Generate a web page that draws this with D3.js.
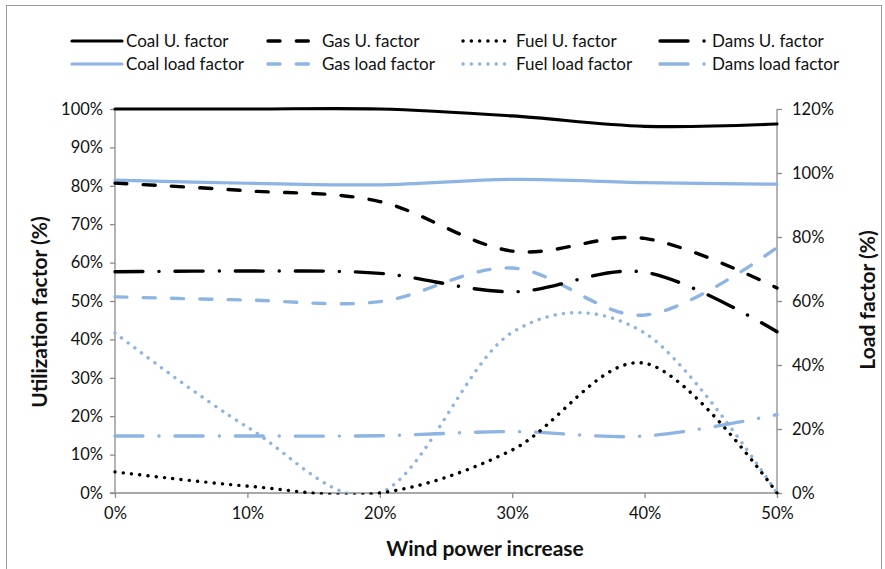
<!DOCTYPE html>
<html>
<head>
<meta charset="utf-8">
<script src="https://cdn.jsdelivr.net/npm/d3@7"></script>
<style>
  html, body { margin: 0; padding: 0; background: #fff; }
  svg { display: block; font-family: Lato, "Open Sans", sans-serif; }
</style>
</head>
<body>
<svg id="chart" width="885" height="569"></svg>
<script>
// Wind power increase (x) and the eight series
const windIncrease = [0, 0.1, 0.2, 0.3, 0.4, 0.5];
const xTickLabels = ["0%", "10%", "20%", "30%", "40%", "50%"];

// Utilization factors (left axis)
const coalU = [1.000, 1.000, 1.000, 0.982, 0.955, 0.961];
const gasU  = [0.807, 0.787, 0.759, 0.630, 0.663, 0.534];
const fuelU = [0.055, 0.018, 0.000, 0.112, 0.338, 0.000];
const damsU = [0.576, 0.578, 0.572, 0.524, 0.575, 0.420];

// Load factors (right axis)
const coalLoad = [0.978, 0.968, 0.963, 0.980, 0.970, 0.965];
const gasLoad  = [0.613, 0.603, 0.598, 0.703, 0.556, 0.767];
const fuelLoad = [0.500, 0.206, 0.000, 0.502, 0.500, 0.000];
const damsLoad = [0.178, 0.178, 0.179, 0.192, 0.178, 0.245];

const leftTicks = [0, 0.1, 0.2, 0.3, 0.4, 0.5, 0.6, 0.7, 0.8, 0.9, 1.0];
const rightTicks = [0, 0.2, 0.4, 0.6, 0.8, 1.0, 1.2];

const seriesNames = [
  ["Coal U. factor", "Gas U. factor", "Fuel U. factor", "Dams U. factor"],
  ["Coal load factor", "Gas load factor", "Fuel load factor", "Dams load factor"]
];

const svg = d3.select("#chart");
const plot = { left: 115, right: 777, top: 109, bottom: 493 };

const x = d3.scaleLinear().domain([0, 0.5]).range([plot.left, plot.right]);
const yL = d3.scaleLinear().domain([0, 1]).range([plot.bottom, plot.top]);
const yR = d3.scaleLinear().domain([0, 1.2]).range([plot.bottom, plot.top]);

const BLACK = "#000000";
const BLUE = "#8DB4E2";
const AXIS = "#8c8c8c";
const TEXT = "#111";

// line styles: solid, dash, round dot, long dash-dot
const styles = {
  solid:   { dash: null,            width: 3.2 },
  dash:    { dash: "12,16.3",       width: 3.4 },
  dot:     { dash: "0.1,8.2",       width: 3.4 },
  dashdot: { dash: "28,16,0.1,16",  width: 3.4 }
};
const styleOrder = ["solid", "dash", "dot", "dashdot"];

// chart frame
svg.append("rect")
  .attr("x", 6.5).attr("y", 5.5).attr("width", 875).attr("height", 570)
  .attr("fill", "#fff").attr("stroke", "#9a9a9a").attr("stroke-width", 1);

// axes
const fmt = d3.format(".0%");
const axL = d3.axisLeft(yL).tickValues(leftTicks).tickFormat(fmt).tickSize(5).tickPadding(7);
const axR = d3.axisRight(yR).tickValues(rightTicks).tickFormat(fmt).tickSize(5).tickPadding(10);
const axB = d3.axisBottom(x).tickValues(windIncrease).tickFormat((d, i) => xTickLabels[i]).tickSize(5).tickPadding(9);

function styleAxis(g) {
  g.select(".domain").attr("stroke", AXIS).attr("stroke-width", 1.3);
  g.selectAll(".tick line").attr("stroke", AXIS).attr("stroke-width", 1.3);
  g.selectAll(".tick text").attr("fill", TEXT).style("font-size", "16.5px").style("font-family", "Lato, sans-serif");
}

svg.append("g").attr("transform", `translate(0,${plot.bottom})`).call(axB).call(styleAxis)
  .select(".domain").attr("d", `M${plot.left - 5},0H${plot.right}`);
svg.append("g").attr("transform", `translate(${plot.left},0)`).call(axL).call(styleAxis)
  .select(".domain").attr("d", `M0,${plot.top}V${plot.bottom}`);
svg.append("g").attr("transform", `translate(${plot.right},0)`).call(axR).call(styleAxis)
  .select(".domain").attr("d", `M0,${plot.top}V${plot.bottom}`);

// plot-area clip so smoothed curves do not dip under the baseline
svg.append("clipPath").attr("id", "plot-clip")
  .append("rect")
  .attr("x", plot.left - 4).attr("y", plot.top - 6)
  .attr("width", plot.right - plot.left + 8).attr("height", plot.bottom - plot.top + 7.5);

// series
const series = [
  { values: coalU,    y: yL, color: BLACK, style: "solid" },
  { values: coalLoad, y: yR, color: BLUE,  style: "solid" },
  { values: gasU,     y: yL, color: BLACK, style: "dash" },
  { values: gasLoad,  y: yR, color: BLUE,  style: "dash" },
  { values: damsU,    y: yL, color: BLACK, style: "dashdot" },
  { values: damsLoad, y: yR, color: BLUE,  style: "dashdot" },
  { values: fuelLoad, y: yR, color: BLUE,  style: "dot" },
  { values: fuelU,    y: yL, color: BLACK, style: "dot" }
];

const linesG = svg.append("g").attr("clip-path", "url(#plot-clip)");
series.forEach(s => {
  const line = d3.line()
    .x((d, i) => x(windIncrease[i]))
    .y(d => s.y(d))
    .curve(d3.curveCardinal.tension(0));
  const st = styles[s.style];
  linesG.append("path")
    .datum(s.values)
    .attr("d", line)
    .attr("fill", "none")
    .attr("stroke", s.color)
    .attr("stroke-width", st.width)
    .attr("stroke-linecap", "round")
    .attr("stroke-linejoin", "round")
    .attr("stroke-dasharray", st.dash);
});

// legend
const legendRows = [41, 64];
const sampleX = [72, 268, 463, 660];
const sampleLen = [50, 50, 43, 50];
const textX = [126, 322, 516, 712];
const rowColors = [BLACK, BLUE];
seriesNames.forEach((row, r) => {
  row.forEach((name, c) => {
    const st = styles[styleOrder[c]];
    const y = legendRows[r];
    svg.append("line")
      .attr("x1", sampleX[c]).attr("x2", sampleX[c] + sampleLen[c])
      .attr("y1", y).attr("y2", y)
      .attr("stroke", rowColors[r])
      .attr("stroke-width", st.width)
      .attr("stroke-linecap", "round")
      .attr("stroke-dasharray", st.dash);
    svg.append("text")
      .attr("x", textX[c]).attr("y", y)
      .attr("dy", "0.35em")
      .attr("fill", TEXT)
      .style("font-size", "17px")
      .text(name);
  });
});

// axis titles
svg.append("text")
  .attr("x", 485).attr("y", 549)
  .attr("text-anchor", "middle").attr("dy", "0.35em")
  .style("font-size", "21px").style("font-weight", "bold").attr("fill", TEXT)
  .text("Wind power increase");

svg.append("text")
  .attr("transform", `translate(40,312) rotate(-90)`)
  .attr("text-anchor", "middle").attr("dy", "0.35em")
  .style("font-size", "21px").style("font-weight", "bold").attr("fill", TEXT)
  .text("Utilization factor (%)");

svg.append("text")
  .attr("transform", `translate(868,300) rotate(-90)`)
  .attr("text-anchor", "middle").attr("dy", "0.35em")
  .style("font-size", "21px").style("font-weight", "bold").attr("fill", TEXT)
  .text("Load factor (%)");
</script>
</body>
</html>
